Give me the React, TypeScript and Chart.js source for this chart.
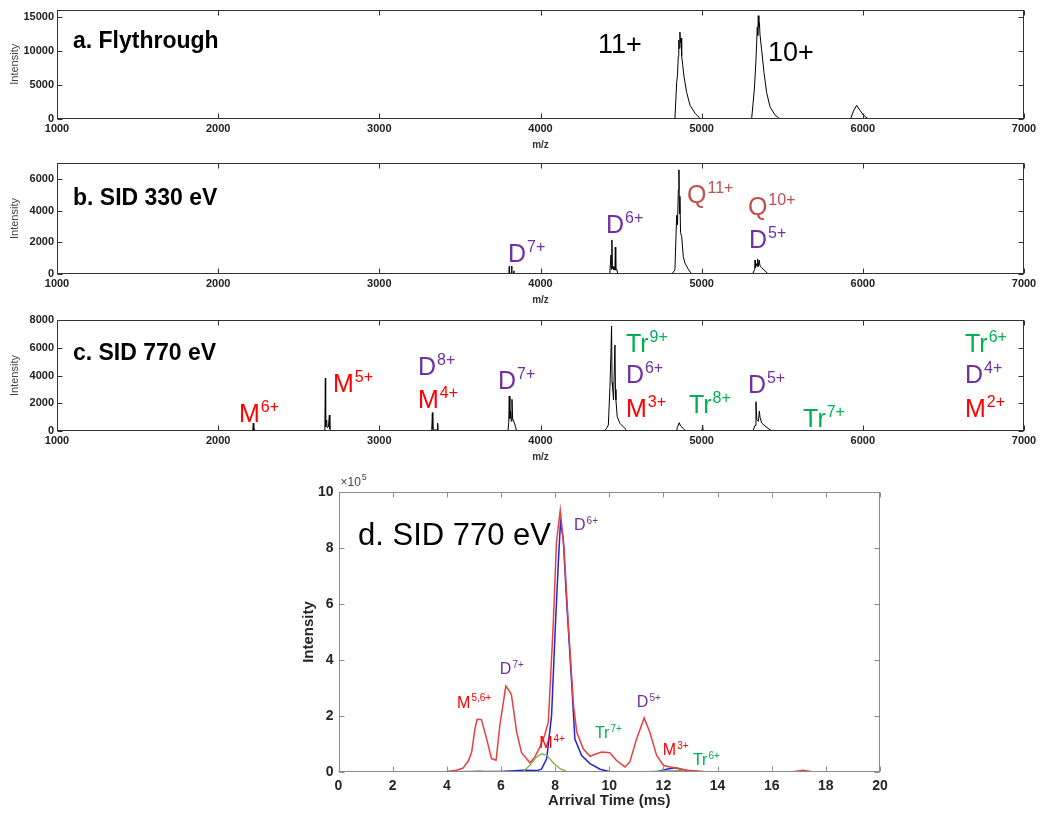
import React, { useEffect, useRef } from "react";
import { Chart, registerables } from "chart.js";

Chart.register(...registerables);

const FONT = "Arial, 'Liberation Sans', Helvetica, sans-serif";
const PURPLE = "#7030a0";
const RED = "#ff0000";
const QRED = "#c0504d";
const GREEN = "#00b050";

// ---------- Tick values ----------
const mzTicks = [1000, 2000, 3000, 4000, 5000, 6000, 7000];
const yTicksA = [0, 5000, 10000, 15000];
const yTicksB = [0, 2000, 4000, 6000];
const yTicksC = [0, 2000, 4000, 6000, 8000];
const timeTicks = [0, 2, 4, 6, 8, 10, 12, 14, 16, 18, 20];
const yTicksD = [0, 2, 4, 6, 8, 10];

// ---------- Panel a: Flythrough ----------
const flyMz = [1000, 1500, 2000, 2500, 3000, 3500, 4000, 4500, 4834, 4845, 4850, 4855, 4858, 4861, 4865, 4868, 4872, 4876, 4882, 4890, 4907, 4928, 4959, 4994, 5310, 5327, 5335, 5341, 5345, 5348, 5351, 5355, 5358, 5362, 5372, 5387, 5403, 5424, 5455, 5486, 5924, 5941, 5962, 5982, 6003, 6034, 6500, 7000];
const flyInt = [0, 0, 0, 0, 0, 0, 0, 0, 0, 5400, 6500, 9200, 11600, 10400, 12800, 11200, 11900, 9300, 8000, 6300, 3900, 2000, 850, 0, 0, 4400, 7800, 11000, 13500, 12300, 15200, 13600, 14200, 12400, 10200, 6800, 3900, 1800, 600, 0, 0, 1150, 2000, 1300, 580, 0, 0, 0];

// ---------- Panel b: SID 330 eV ----------
const sid330Mz = [1000, 3804, 3806, 3808, 3819, 3821, 3823, 3833, 3835, 3837, 4430, 4437, 4440, 4443, 4446, 4452, 4456, 4462, 4464, 4467, 4473, 4480, 4814, 4834, 4845, 4850, 4855, 4859, 4862, 4865, 4869, 4876, 4886, 4896, 4917, 4938, 5316, 5329, 5331, 5334, 5341, 5344, 5347, 5351, 5357, 5362, 5372, 5393, 5413, 7000];
const sid330Int = [0, 0, 470, 40, 40, 500, 40, 20, 200, 0, 0, 1200, 300, 2150, 350, 460, 250, 300, 1690, 250, 300, 0, 0, 250, 3700, 3100, 5300, 6570, 3800, 4900, 2600, 2360, 1100, 700, 300, 0, 0, 300, 880, 400, 650, 500, 950, 450, 880, 500, 400, 200, 0, 0];

// ---------- Panel c: SID 770 eV ----------
const sid770Mz = [1000, 2214, 2218, 2221, 2226, 2232, 2662, 2665, 2667, 2670, 2673, 2676, 2684, 2690, 2693, 2700, 3325, 3329, 3332, 3345, 3360, 3362, 3365, 3798, 3803, 3806, 3810, 3815, 3819, 3823, 3827, 3831, 3842, 3852, 4395, 4410, 4421, 4431, 4437, 4441, 4444, 4447, 4453, 4462, 4465, 4468, 4476, 4493, 4524, 4535, 4845, 4849, 4861, 4869, 4886, 4900, 5002, 5006, 5009, 5318, 5331, 5337, 5342, 5346, 5352, 5358, 5362, 5372, 5393, 5434, 7000];
const sid770Int = [0, 0, 560, 60, 120, 0, 0, 3800, 300, 700, 790, 250, 300, 1150, 150, 0, 0, 1320, 120, 60, 100, 560, 0, 0, 600, 2520, 900, 1400, 700, 2280, 900, 790, 430, 0, 0, 190, 430, 3190, 5600, 7570, 3500, 3190, 2230, 6200, 3000, 2230, 1030, 550, 190, 0, 0, 260, 600, 360, 190, 0, 0, 430, 0, 0, 400, 2110, 800, 790, 700, 1440, 1000, 580, 360, 0, 0];

// ---------- Panel d: arrival time distributions (x10^5) ----------
const redTime = [0, 1, 2, 3, 3.5, 4.0, 4.36, 4.6, 4.8, 4.92, 5.04, 5.12, 5.28, 5.47, 5.65, 5.82, 5.96, 6.18, 6.33, 6.39, 6.58, 6.76, 7.07, 7.25, 7.44, 7.62, 7.75, 7.93, 8.05, 8.19, 8.33, 8.49, 8.68, 8.8, 9.04, 9.29, 9.53, 9.72, 10.02, 10.27, 10.58, 10.76, 11.01, 11.29, 11.5, 11.75, 12.0, 12.24, 12.49, 12.86, 13.47, 14, 16.8, 17.15, 17.5, 20];
const redInt = [0, 0, 0.01, 0.01, 0.01, 0.02, 0.06, 0.14, 0.4, 0.71, 1.55, 1.88, 1.87, 1.19, 0.48, 0.42, 1.67, 3.07, 2.86, 2.74, 1.43, 0.69, 0.33, 0.54, 0.89, 1.33, 1.79, 5.24, 8.21, 9.35, 7.98, 5.24, 2.38, 1.43, 0.83, 0.56, 0.65, 0.71, 0.69, 0.41, 0.18, 0.36, 1.18, 1.93, 1.42, 0.59, 0.24, 0.18, 0.14, 0.06, 0.02, 0.01, 0.01, 0.06, 0.01, 0];
const blueTime = [0, 4, 5, 6, 6.82, 7.32, 7.5, 7.69, 7.87, 8.0, 8.12, 8.2, 8.3, 8.42, 8.61, 8.73, 8.98, 9.29, 9.66, 10.0, 11.75, 12.12, 12.42, 12.73, 13.1, 14, 20];
const blueInt = [0.01, 0.01, 0.02, 0.02, 0.06, 0.05, 0.1, 0.48, 2.02, 5.0, 7.5, 8.93, 8.33, 6.19, 3.21, 1.18, 0.59, 0.3, 0.1, 0.02, 0.01, 0.1, 0.15, 0.08, 0.02, 0.01, 0];
const greenTime = [0, 5, 5.2, 5.4, 6.82, 7.07, 7.32, 7.5, 7.69, 7.93, 8.18, 8.42, 11, 12.2, 12.6, 13, 14, 20];
const greenInt = [0, 0.01, 0.04, 0.01, 0.02, 0.24, 0.54, 0.65, 0.6, 0.33, 0.12, 0.02, 0, 0.04, 0.06, 0.03, 0, 0];

// ---------- Annotation texts ----------
type Lbl = { t: string; s?: string; x: number; y: number; c: string; f: number; b?: boolean };

const labelsA: Lbl[] = [
  { t: "a. Flythrough", x: 1099, y: 10430, c: "#000", f: 23, b: true },
  { t: "11+", x: 4357, y: 9700, c: "#000", f: 27 },
  { t: "10+", x: 5411, y: 8500, c: "#000", f: 27 },
];
const labelsB: Lbl[] = [
  { t: "b. SID 330 eV", x: 1099, y: 4360, c: "#000", f: 23, b: true },
  { t: "D", s: "7+", x: 3798, y: 760, c: PURPLE, f: 25 },
  { t: "D", s: "6+", x: 4406, y: 2590, c: PURPLE, f: 25 },
  { t: "Q", s: "11+", x: 4909, y: 4490, c: QRED, f: 25 },
  { t: "Q", s: "10+", x: 5287, y: 3730, c: QRED, f: 25 },
  { t: "D", s: "5+", x: 5294, y: 1640, c: PURPLE, f: 25 },
];
const labelsC: Lbl[] = [
  { t: "c. SID 770 eV", x: 1099, y: 5120, c: "#000", f: 23, b: true },
  { t: "M", s: "6+", x: 2129, y: 650, c: RED, f: 25 },
  { t: "M", s: "5+", x: 2712, y: 2810, c: RED, f: 25 },
  { t: "D", s: "8+", x: 3240, y: 4040, c: PURPLE, f: 25 },
  { t: "M", s: "4+", x: 3240, y: 1660, c: RED, f: 25 },
  { t: "D", s: "7+", x: 3736, y: 3030, c: PURPLE, f: 25 },
  { t: "Tr", s: "9+", x: 4530, y: 5690, c: GREEN, f: 25 },
  { t: "D", s: "6+", x: 4530, y: 3460, c: PURPLE, f: 25 },
  { t: "M", s: "3+", x: 4530, y: 1010, c: RED, f: 25 },
  { t: "Tr", s: "8+", x: 4921, y: 1300, c: GREEN, f: 25 },
  { t: "D", s: "5+", x: 5287, y: 2740, c: PURPLE, f: 25 },
  { t: "Tr", s: "7+", x: 5629, y: 290, c: GREEN, f: 25 },
  { t: "Tr", s: "6+", x: 6634, y: 5690, c: GREEN, f: 25 },
  { t: "D", s: "4+", x: 6634, y: 3460, c: PURPLE, f: 25 },
  { t: "M", s: "2+", x: 6634, y: 1010, c: RED, f: 25 },
];
const labelsD: Lbl[] = [
  { t: "d. SID 770 eV", x: 0.72, y: 8.1, c: "#000", f: 31 },
  { t: "D", s: "6+", x: 8.7, y: 8.64, c: PURPLE, f: 16 },
  { t: "D", s: "7+", x: 5.96, y: 3.5, c: PURPLE, f: 16 },
  { t: "M", s: "5,6+", x: 4.38, y: 2.29, c: RED, f: 16 },
  { t: "M", s: "4+", x: 7.41, y: 0.86, c: RED, f: 16 },
  { t: "Tr", s: "7+", x: 9.47, y: 1.21, c: GREEN, f: 16 },
  { t: "D", s: "5+", x: 11.02, y: 2.32, c: PURPLE, f: 16 },
  { t: "M", s: "3+", x: 11.98, y: 0.61, c: RED, f: 16 },
  { t: "Tr", s: "6+", x: 13.09, y: 0.25, c: GREEN, f: 16 },
];

function drawLabel(ctx: CanvasRenderingContext2D, x: number, y: number, l: Lbl) {
  ctx.fillStyle = l.c;
  ctx.textAlign = "left";
  ctx.textBaseline = "alphabetic";
  ctx.font = `${l.b ? "bold " : ""}${l.f}px ${FONT}`;
  ctx.fillText(l.t, x, y);
  if (l.s) {
    const w = ctx.measureText(l.t).width;
    const sf = Math.round(l.f * 0.65);
    ctx.font = `${sf}px ${FONT}`;
    ctx.fillText(l.s, x + w + 1, y - l.f * 0.4);
  }
}

function makeFrame(color: string, tickLen: number, labels: Lbl[], extra?: (c: any) => void) {
  return {
    id: "frame",
    afterDatasetsDraw(chart: any) {
      const { ctx, chartArea: a, scales } = chart;
      const xs = scales.x;
      const ys = scales.y;
      ctx.save();
      ctx.strokeStyle = color;
      ctx.lineWidth = 1;
      const L = Math.round(a.left) + 0.5;
      const R = Math.round(a.right) - 0.5;
      const T = Math.round(a.top) + 0.5;
      const B = Math.round(a.bottom) - 0.5;
      ctx.strokeRect(L, T, R - L, B - T);
      ctx.beginPath();
      xs.ticks.forEach((t: any) => {
        const p = Math.round(xs.getPixelForValue(t.value)) + 0.5;
        ctx.moveTo(p, B);
        ctx.lineTo(p, B - tickLen);
        ctx.moveTo(p, T);
        ctx.lineTo(p, T + tickLen);
      });
      ys.ticks.forEach((t: any) => {
        const p = Math.round(ys.getPixelForValue(t.value)) + 0.5;
        ctx.moveTo(L, p);
        ctx.lineTo(L + tickLen, p);
        ctx.moveTo(R, p);
        ctx.lineTo(R - tickLen, p);
      });
      ctx.stroke();
      labels.forEach((l) => drawLabel(ctx, xs.getPixelForValue(l.x), ys.getPixelForValue(l.y), l));
      if (extra) extra(chart);
      ctx.restore();
    },
  };
}

function pts(xs: number[], ys: number[]) {
  return xs.map((x, i) => ({ x, y: ys[i] }));
}

const fixTicks = (vals: number[]) => (s: any) => {
  s.ticks = vals.map((v) => ({ value: v }));
};
const plain = (v: any) => String(v);

function spectrumConfig(mz: number[], inten: number[], yMax: number, yTicks: number[], padTop: number, labels: Lbl[]) {
  const tickFont = { family: FONT, size: 11, weight: "bold" as const };
  return {
    type: "line" as const,
    data: {
      datasets: [
        {
          data: pts(mz, inten),
          borderColor: "#000",
          borderWidth: 1,
          pointRadius: 0,
          tension: 0,
          fill: false,
        },
      ],
    },
    options: {
      animation: false as const,
      responsive: true,
      maintainAspectRatio: false,
      layout: { padding: { top: padTop, right: 16, left: 0, bottom: 0 } },
      plugins: { legend: { display: false }, tooltip: { enabled: false } },
      scales: {
        x: {
          type: "linear" as const,
          min: 1000,
          max: 7000,
          afterBuildTicks: fixTicks(mzTicks),
          ticks: { font: tickFont, color: "#222", padding: 3, maxRotation: 0, autoSkip: false, callback: plain },
          grid: { display: false, drawTicks: false },
          border: { display: false },
          title: { display: true, text: "m/z", font: { family: FONT, size: 10, weight: "bold" as const }, color: "#333", padding: 0 },
          afterFit: (s: any) => {
            s.height = 32;
          },
        },
        y: {
          type: "linear" as const,
          min: 0,
          max: yMax,
          afterBuildTicks: fixTicks(yTicks),
          ticks: { font: tickFont, color: "#222", padding: 3, autoSkip: false, callback: plain },
          grid: { display: false, drawTicks: false },
          border: { display: false },
          title: { display: true, text: "Intensity", font: { family: FONT, size: 11 }, color: "#444", padding: { top: 8, bottom: 0 } },
          afterFit: (s: any) => {
            s.width = 57;
          },
        },
      },
    },
    plugins: [makeFrame("#333", 5, labels)],
  };
}

function atdConfig() {
  const tickFont = { family: FONT, size: 14, weight: "bold" as const };
  const titleFont = { family: FONT, size: 15, weight: "bold" as const };
  const extra = (chart: any) => {
    const { ctx, chartArea: a } = chart;
    ctx.fillStyle = "#444";
    ctx.textAlign = "left";
    ctx.textBaseline = "alphabetic";
    ctx.font = `12px ${FONT}`;
    ctx.fillText("\u00d710", a.left + 2, a.top - 6);
    const w = ctx.measureText("\u00d710").width;
    ctx.font = `9px ${FONT}`;
    ctx.fillText("5", a.left + 3 + w, a.top - 12);
  };
  return {
    type: "line" as const,
    data: {
      datasets: [
        { data: pts(redTime, redInt), borderColor: "rgb(232,64,64)", borderWidth: 1.5, pointRadius: 0, tension: 0, fill: false },
        { data: pts(greenTime, greenInt), borderColor: "rgb(130,175,70)", borderWidth: 1.3, pointRadius: 0, tension: 0, fill: false },
        { data: pts(blueTime, blueInt), borderColor: "rgb(35,35,215)", borderWidth: 1.5, pointRadius: 0, tension: 0, fill: false },
      ],
    },
    options: {
      animation: false as const,
      responsive: true,
      maintainAspectRatio: false,
      layout: { padding: { top: 29, right: 20, left: 0, bottom: 0 } },
      plugins: { legend: { display: false }, tooltip: { enabled: false } },
      scales: {
        x: {
          type: "linear" as const,
          min: 0,
          max: 20,
          afterBuildTicks: fixTicks(timeTicks),
          ticks: { font: tickFont, color: "#262626", padding: 6, maxRotation: 0, autoSkip: false, callback: plain },
          grid: { display: false, drawTicks: false },
          border: { display: false },
          title: { display: true, text: "Arrival Time (ms)", font: titleFont, color: "#262626", padding: { top: 0, bottom: 5 } },
          afterFit: (s: any) => {
            s.height = 43;
          },
        },
        y: {
          type: "linear" as const,
          min: 0,
          max: 10,
          afterBuildTicks: fixTicks(yTicksD),
          ticks: { font: tickFont, color: "#262626", padding: 5, autoSkip: false, callback: plain },
          grid: { display: false, drawTicks: false },
          border: { display: false },
          title: { display: true, text: "Intensity", font: titleFont, color: "#262626", padding: { top: 10, bottom: 0 } },
          afterFit: (s: any) => {
            s.width = 48.5;
          },
        },
      },
    },
    plugins: [makeFrame("#8c8c8c", 5, labelsD, extra)],
  };
}

function Panel(props: { left: number; top: number; width: number; height: number; make: () => any }) {
  const ref = useRef<HTMLCanvasElement>(null);
  useEffect(() => {
    const chart = new Chart(ref.current as HTMLCanvasElement, props.make());
    return () => chart.destroy();
  }, []);
  return (
    <div style={{ position: "absolute", left: props.left, top: props.top, width: props.width, height: props.height }}>
      <canvas ref={ref} style={{ display: "block" }} />
    </div>
  );
}

export default function App() {
  return (
    <div style={{ position: "absolute", left: 0, top: 0, width: 1040, height: 815, background: "#fff", overflow: "hidden" }}>
      <Panel left={0} top={0} width={1040} height={151} make={() => spectrumConfig(flyMz, flyInt, 16100, yTicksA, 7, labelsA)} />
      <Panel left={0} top={151} width={1040} height={155} make={() => spectrumConfig(sid330Mz, sid330Int, 7000, yTicksB, 12, labelsB)} />
      <Panel left={0} top={306} width={1040} height={157} make={() => spectrumConfig(sid770Mz, sid770Int, 8000, yTicksC, 14, labelsC)} />
      <Panel left={290} top={463} width={610} height={352} make={atdConfig} />
    </div>
  );
}
